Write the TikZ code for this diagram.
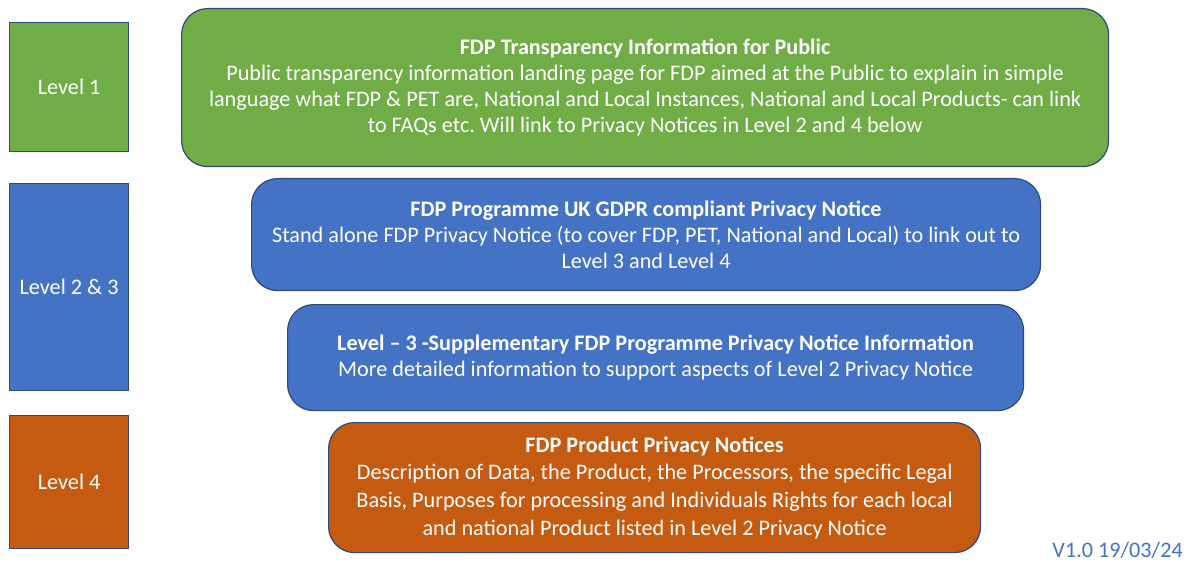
\documentclass[tikz,border=0pt]{standalone}
\usepackage{fontspec}
\setmainfont{Carlito}
\usepackage{xcolor}
\usetikzlibrary{positioning}
\frenchspacing

\definecolor{lvlgreen}{HTML}{70AD47}
\definecolor{lvlblue}{HTML}{4472C4}
\definecolor{lvlorange}{HTML}{C55A11}
\definecolor{lvledge}{HTML}{2F4A75}

\tikzset{
  levelbox/.style={draw=lvledge, line width=1.2pt, anchor=north west,
    text=white, align=center, inner sep=0pt},
  infobox/.style={levelbox, rounded corners=26pt}
}

\begin{document}
\begin{tikzpicture}[x=1pt,y=-1pt,font=\fontsize{22.2}{26}\selectfont]
\useasboundingbox (0,0) rectangle (1192,564);

% Level labels
\node[levelbox,
    fill=lvlgreen,
    minimum width=119pt,
    minimum height=129pt] (level1) at (9,22) {Level 1};

\node[levelbox,
    fill=lvlblue,
    minimum width=119pt,
    minimum height=207pt] (level23) at (9,183) {Level 2 \& 3};

\node[levelbox,
    fill=lvlorange,
    minimum width=119pt,
    minimum height=133pt] (level4) at (9,415) {Level 4};

% Level 1 notice
\node[infobox,
    fill=lvlgreen,
    minimum width=927pt,
    minimum height=158pt] (public) at (181,8) {\textbf{FDP Transparency Information for Public}\\
    Public transparency information landing page for FDP aimed at the Public to explain in simple\\
    language what FDP \& PET are, National and Local Instances, National and Local Products- can link\\
    to FAQs etc. Will link to Privacy Notices in Level 2 and 4 below};

% Level 2 and 3 notices
\node[infobox,
    fill=lvlblue,
    minimum width=789pt,
    minimum height=112pt] (programme) at (251,178) {\textbf{FDP Programme UK GDPR compliant Privacy Notice}\\
    Stand alone FDP Privacy Notice (to cover FDP, PET, National and Local) to link out to\\
    Level 3 and Level 4};

\node[infobox,
    fill=lvlblue,
    minimum width=736pt,
    minimum height=106pt] (supplement) at (287,304) {\textbf{Level -- 3 -Supplementary FDP Programme Privacy Notice Information}\\
    More detailed information to support aspects of Level 2 Privacy Notice};

% Level 4 notice
\node[infobox,
    fill=lvlorange,
    minimum width=652pt,
    minimum height=130pt,
    font=\fontsize{22.2}{27.7}\selectfont] (product) at (328,422) {\textbf{FDP Product Privacy Notices}\\
    Description of Data, the Product, the Processors, the specific Legal\\
    Basis, Purposes for processing and Individuals Rights for each local\\
    and national Product listed in Level 2 Privacy Notice};

% Version
\node[anchor=east, text=lvlblue, inner sep=0pt] (version) at (1183,550) {V1.0 19/03/24};

\end{tikzpicture}
\end{document}
